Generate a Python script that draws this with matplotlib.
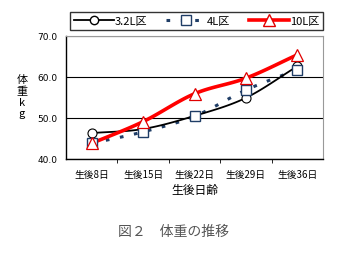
import numpy as np
import matplotlib
matplotlib.use("Agg")
import matplotlib.pyplot as plt
from matplotlib.lines import Line2D

plt.rcParams['font.family'] = ['Noto Sans CJK JP', 'DejaVu Sans']

categories = ["生後8日", "生後15日", "生後22日", "生後29日", "生後36日"]
s32 = [46.3, 47.3, 50.5, 54.9, 62.6]
s4 = [43.8, 46.6, 50.4, 56.8, 61.8]
s10 = [43.8, 49.1, 55.9, 59.7, 65.4]
yticks = [40.0, 50.0, 60.0, 70.0]


def smooth(x, y, n=20):
    x = np.asarray(x, float); y = np.asarray(y, float)
    px = np.concatenate([[2 * x[0] - x[1]], x, [2 * x[-1] - x[-2]]])
    py = np.concatenate([[2 * y[0] - y[1]], y, [2 * y[-1] - y[-2]]])
    xs, ys = [], []
    for i in range(1, len(px) - 2):
        t = np.linspace(0, 1, n, endpoint=(i == len(px) - 3))
        for arr, out in ((px, xs), (py, ys)):
            p0, p1, p2, p3 = arr[i - 1], arr[i], arr[i + 1], arr[i + 2]
            out.extend(0.5 * (2 * p1 + (-p0 + p2) * t + (2 * p0 - 5 * p1 + 4 * p2 - p3) * t ** 2
                              + (-p0 + 3 * p1 - 3 * p2 + p3) * t ** 3))
    return np.array(xs), np.array(ys)


fig = plt.figure(figsize=(3.48, 2.55), dpi=100)
ax = fig.add_axes([0.19, 0.373, 0.738, 0.482])
x = np.arange(len(categories))

navy = '#1f3d66'
xs, ys = smooth(x, s4)
ax.plot(xs, ys, color=navy, lw=2.2, dashes=(1.2, 3.5), zorder=2)
ax.plot(x, s4, ls='none', marker='s', ms=7, mfc='white', mec=navy, mew=1.0, zorder=5)

xs, ys = smooth(x, s32)
ax.plot(xs, ys, color='black', lw=1.3, zorder=3)
ax.plot(x, s32, ls='none', marker='o', ms=6.5, mfc='white', mec='black', mew=0.8, zorder=4)

xs, ys = smooth(x, s10)
ax.plot(xs, ys, color='#ff0000', lw=2.6, zorder=3)
ax.plot(x, s10, ls='none', marker='^', ms=9, mfc='white', mec='#e00000', mew=0.9, zorder=6)

ax.set_xlim(-0.5, 4.5)
ax.set_ylim(40, 70)
ax.set_yticks(yticks)
ax.set_yticklabels([f"{v:.1f}" for v in yticks], fontsize=6.5, family=['DejaVu Sans'])
ax.yaxis.grid(True, color='black', lw=0.8)
ax.set_axisbelow(True)
ax.set_xticks(x)
ax.set_xticklabels(categories, fontsize=7)
ax.set_xticks(np.arange(0.5, 4.5, 1), minor=True)
ax.tick_params(axis='x', which='major', length=0, pad=7)
ax.tick_params(axis='x', which='minor', length=3, direction='out', color='black')
ax.tick_params(axis='y', length=0, pad=6)
for s in ['top', 'right']:
    ax.spines[s].set_color('#999999')
    ax.spines[s].set_linewidth(0.8)
for s in ['left', 'bottom']:
    ax.spines[s].set_color('black')
    ax.spines[s].set_linewidth(1.0)

ax.set_xlabel("生後日齢", fontsize=8.5, labelpad=3)
fig.text(0.063, 0.62, "体\n重\nk\ng", fontsize=8, ha='center', va='center', linespacing=1.15)

handles = [
    Line2D([], [], color='black', lw=1.3, marker='o', ms=6, mfc='white', mec='black'),
    Line2D([], [], color=navy, lw=2.2, dashes=(1.2, 3.5), marker='s', ms=6.5, mfc='white', mec=navy),
    Line2D([], [], color='#ff0000', lw=2.6, marker='^', ms=8, mfc='white', mec='#e00000'),
]
leg = fig.legend(handles, ["3.2L区", "4L区", "10L区"], loc='lower left',
                 bbox_to_anchor=(0.201, 0.878, 0.727, 0.087), mode='expand', ncol=3,
                 fontsize=8, frameon=True, fancybox=False, edgecolor='black',
                 handlelength=3.6, handletextpad=0.1, columnspacing=1.0, borderpad=0.35,
                 borderaxespad=0)
leg.get_frame().set_linewidth(1.0)

fig.text(0.5, 0.09, "図２　体重の推移", fontsize=10, ha='center', va='center', color='#555555')

fig.savefig("out.png", dpi=100)
